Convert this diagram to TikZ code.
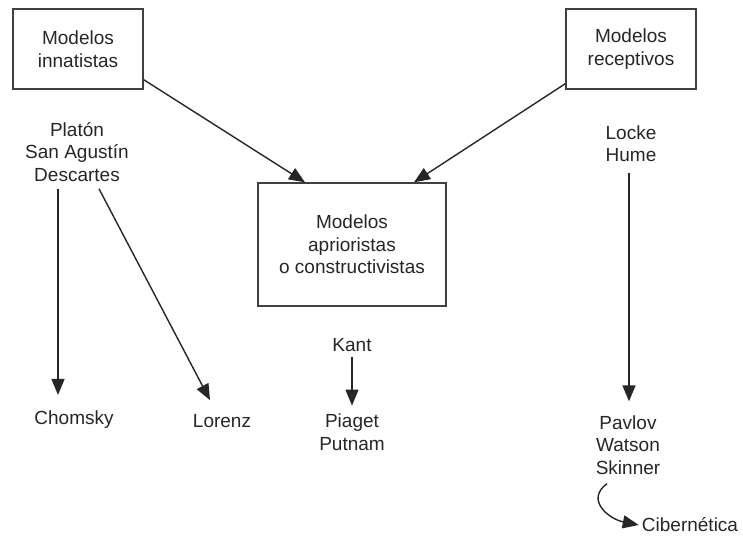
\documentclass[tikz,border=0pt]{standalone}
\usepackage{fontspec}
\setmainfont{Liberation Sans}
\usetikzlibrary{arrows.meta}
\begin{document}
\begin{tikzpicture}[x=1pt,y=-1pt,
  txt/.style={align=center,inner sep=3pt,text=black!85,font=\fontsize{19}{22.5}\selectfont},
  box/.style={txt,draw=black!75,line width=1.4pt},
  arr/.style={draw=black!85,line width=1.4pt,-{Triangle[length=16pt,width=13pt]}}]
\useasboundingbox (0,0) rectangle (743,545);
\node[box,minimum width=130pt,minimum height=80pt] (inn) at (78,49) {Modelos\\innatistas};
\node[box,minimum width=130pt,minimum height=80pt] (rec) at (631,49) {Modelos\\receptivos};
\node[box,minimum width=188pt,minimum height=123pt] (cen) at (352,244.5) {Modelos\\aprioristas\\o constructivistas};
\node[txt] (plat) at (77,152) {Platón\\San Agustín\\Descartes};
\node[txt] (lock) at (631,143.5) {Locke\\Hume};
\node[txt] (chom) at (74,420) {Chomsky};
\node[txt] (lor) at (222,421) {Lorenz};
\node[txt] (kant) at (352,345) {Kant};
\node[txt] (pia) at (352,432) {Piaget\\Putnam};
\node[txt] (pav) at (628,445) {Pavlov\\Watson\\Skinner};
\node[txt] (cib) at (690,525) {Cibernética};
\draw[arr] ([yshift=10pt]inn.south east) -- ([xshift=-47pt]cen.north);
\draw[arr] ([yshift=6pt]rec.south west) -- ([xshift=62pt]cen.north);
\draw[arr] ([xshift=-19pt,yshift=-4pt]plat.south) -- ([xshift=-16pt,yshift=13pt]chom.north);
\draw[arr] ([xshift=22pt,yshift=-4pt]plat.south) -- ([xshift=-12pt,yshift=11pt]lor.north);
\draw[arr] ([yshift=-2pt]kant.south) -- ([yshift=5pt]pia.north);
\draw[arr] ([xshift=-2pt,yshift=-8pt]lock.south) -- ([xshift=1pt,yshift=11pt]pav.north);
\draw[arr] ([xshift=-21pt,yshift=-6pt]pav.south) .. controls +(-22,16) and +(-30,-6) .. (cib.west);
\end{tikzpicture}
\end{document}
